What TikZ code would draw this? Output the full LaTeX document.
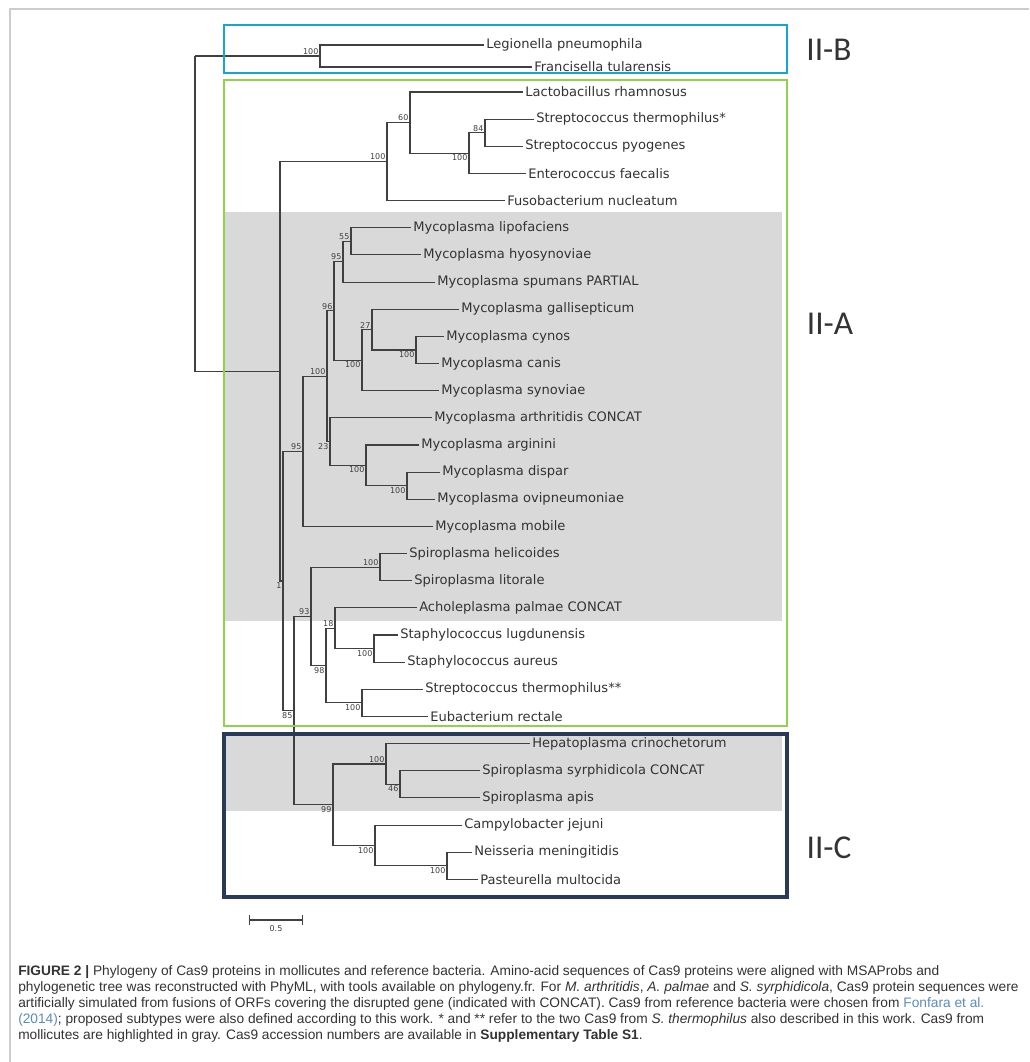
\documentclass[tikz,border=0pt]{standalone}
\usepackage{fontspec}
\setmainfont{DejaVu Sans}
\newfontfamily\cladefont{Carlito}
\newfontfamily\capfont{Liberation Sans}
\usetikzlibrary{calc, backgrounds, arrows}
\definecolor{cladeB}{RGB}{20,165,210}
\definecolor{cladeA}{RGB}{146,208,80}
\definecolor{cladeC}{RGB}{40,58,88}
\definecolor{mollgray}{RGB}{217,217,217}
\definecolor{framegray}{RGB}{205,205,205}
\definecolor{linkblue}{RGB}{90,140,190}

\begin{document}
\begin{tikzpicture}[x=0.75pt, y=-0.75pt,
	branch/.style={draw=black!75, line width=0.8pt},
	taxon/.style={anchor=west, inner sep=1.5pt, font=\fontsize{9.8}{10}\selectfont, text=black!80},
	boot/.style={font=\fontsize{6}{6}\selectfont, text=black!75, inner sep=1pt},
	cladebox/.style={line width=2.2pt},
	cladename/.style={font=\cladefont\fontsize{25}{25}\selectfont, text=black!80}]
	\useasboundingbox (0,0) rectangle (1029,1062);
	\draw[framegray, line width=1.5pt] (10,1062) -- (10,9) -- (1029,9);

	\coordinate (ROOT) at (195,56);
	\foreach \n/\x/\y/\a/\b in {IIB/320/56/south east/100, FIRM/387/161.6/south east/100,
		F60/410/122.6/south east/60, STR/469/153.1/north east/100, S84/485/132.8/south east/84,
		N2/283/581.0/north east/1, MYC/303/451.3/south east/95, M100/327/376.2/south east/100,
		M96/334/310.9/south east/96, M95/343/261.7/south east/95, M55/351/241.4/south east/55,
		SYN/362/360.1/north east/100, M27/372/329.6/south east/27, CC/416/350.0/north east/100,
		M23/330/441.6/north east/23, ARG/366/465.4/north east/100, DO/407/485.7/north east/100,
		N85/294/710.6/north east/85, N93/311/616.4/south east/93, SPI/380/567.2/south east/100,
		N98/326/665.6/north east/98, N18/335/628.2/south east/18, STAPH/374/648.6/north east/100,
		STE/362/702.9/north east/100, IIC/333/804.7/north east/99, HEP/386/764.0/south east/100,
		N46/400/784.4/north east/46, CAM/375/845.5/north east/100, NP/447/865.8/north east/100}
	{
		\coordinate (\n) at (\x,\y);
		\node[boot, anchor=\a] (B\n) at (\n) {\b};
	}
	\coordinate (N1) at (280,371.3);

	\foreach \n/\x/\y/\t in {LPN/484/45/Legionella pneumophila, FTU/532/67/Francisella tularensis,
		LRH/523/92.0/Lactobacillus rhamnosus, STH/534/119.2/Streptococcus thermophilus*,
		SPY/523/146.3/Streptococcus pyogenes, EFA/526/173.5/Enterococcus faecalis,
		FNU/505/200.6/Fusobacterium nucleatum, MLI/411/227.8/Mycoplasma lipofaciens,
		MHY/421/254.9/Mycoplasma hyosynoviae, MSP/435/282.1/Mycoplasma spumans PARTIAL,
		MGA/459/309.2/Mycoplasma gallisepticum, MCY/444/336.4/Mycoplasma cynos,
		MCA/439/363.5/Mycoplasma canis, MSY/439/390.7/Mycoplasma synoviae,
		MAR/432/417.8/Mycoplasma arthritidis CONCAT, MAG/419/445.0/Mycoplasma arginini,
		MDI/440/472.1/Mycoplasma dispar, MOV/435/499.3/Mycoplasma ovipneumoniae,
		MMO/433/526.4/Mycoplasma mobile, SHE/407/553.6/Spiroplasma helicoides,
		SLI/412/580.7/Spiroplasma litorale, APA/417/607.9/Acholeplasma palmae CONCAT,
		SLU/398/635.0/Staphylococcus lugdunensis, SAU/405/662.2/Staphylococcus aureus,
		STT/423/689.3/Streptococcus thermophilus**, ERE/428/716.5/Eubacterium rectale,
		HCR/530/743.6/Hepatoplasma crinochetorum, SSY/480/770.8/Spiroplasma syrphidicola CONCAT,
		SAP/480/797.9/Spiroplasma apis, CJE/462/825.1/Campylobacter jejuni,
		NME/472/852.2/Neisseria meningitidis, PMU/478/879.4/Pasteurella multocida}
		\node[taxon] (\n) at (\x,\y) {\t};

	\begin{scope}[on background layer]
		\fill[white] (0,0) rectangle (1029,1062);
		\fill[mollgray] (225,212) rectangle (782,621);
		\fill[mollgray] (225,735) rectangle (782,811);
	\end{scope}

	\foreach \p/\c in {ROOT/IIB, ROOT/N1, IIB/LPN, IIB/FTU, N1/FIRM, N1/N2,
		FIRM/F60, FIRM/FNU, F60/LRH, F60/STR, STR/S84, STR/EFA, S84/STH, S84/SPY,
		N2/MYC, N2/N85, MYC/M100, MYC/MMO, M100/M96, M100/M23, M96/M95, M96/SYN,
		M95/M55, M95/MSP, M55/MLI, M55/MHY, SYN/M27, SYN/MSY, M27/MGA, M27/CC,
		CC/MCY, CC/MCA, M23/MAR, M23/ARG, ARG/MAG, ARG/DO, DO/MDI, DO/MOV,
		N85/N93, N85/IIC, N93/SPI, N93/N98, SPI/SHE, SPI/SLI, N98/N18, N98/STE,
		N18/APA, N18/STAPH, STAPH/SLU, STAPH/SAU, STE/STT, STE/ERE,
		IIC/HEP, IIC/CAM, HEP/HCR, HEP/N46, N46/SSY, N46/SAP, CAM/CJE, CAM/NP,
		NP/NME, NP/PMU}
		\draw[branch] (\p) |- (\c);

	\draw[cladebox, draw=cladeB] (224,25) rectangle (787,73);
	\draw[cladebox, draw=cladeA] (224,80) rectangle (787,726);
	\draw[cladebox, draw=cladeC, line width=2.6pt] (224,734) rectangle (787,897);
	\node[cladename] (LIIB) at (829,50) {II-B};
	\node[cladename] (LIIA) at (830,324) {II-A};
	\node[cladename] (LIIC) at (829,848) {II-C};

	\coordinate (SB1) at (249,920);
	\coordinate (SB2) at (303,920);
	\draw[branch, |-|] (SB1) -- (SB2) node[boot, below=3pt, midway] (SBL) {0.5};

	\node[anchor=north west, align=left, inner sep=0pt, text=black!80,
		font=\capfont\fontsize{10.3}{12}\selectfont] (CAP) at (18,965)
		{\textbf{FIGURE 2 |} Phylogeny of Cas9 proteins in mollicutes and reference bacteria. Amino-acid sequences of Cas9 proteins were aligned with MSAProbs and\\
		phylogenetic tree was reconstructed with PhyML, with tools available on phylogeny.fr. For \textit{M. arthritidis}, \textit{A. palmae} and \textit{S. syrphidicola}, Cas9 protein sequences were\\
		artificially simulated from fusions of ORFs covering the disrupted gene (indicated with CONCAT). Cas9 from reference bacteria were chosen from \textcolor{linkblue}{Fonfara et al.}\\
		\textcolor{linkblue}{(2014)}; proposed subtypes were also defined according to this work. * and ** refer to the two Cas9 from \textit{S. thermophilus} also described in this work. Cas9 from\\
		mollicutes are highlighted in gray. Cas9 accession numbers are available in \textbf{Supplementary Table S1}.};
\end{tikzpicture}
\end{document}
